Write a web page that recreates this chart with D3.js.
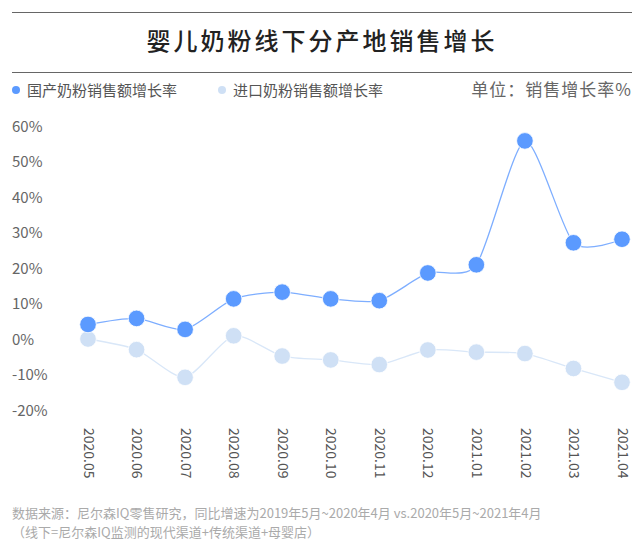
<!DOCTYPE html>
<html><head><meta charset="utf-8">
<script src="https://cdn.jsdelivr.net/npm/d3@7"></script>
<style>body{margin:0;background:#fff;} svg{display:block;font-family:"Noto Sans CJK SC","Noto Sans",sans-serif;}</style>
</head><body>
<svg id="c" width="641" height="550"></svg>
<script>
const months = ["2020.05","2020.06","2020.07","2020.08","2020.09","2020.10","2020.11","2020.12","2021.01","2021.02","2021.03","2021.04"];
const domestic = [4.1, 5.8, 2.7, 11.3, 13.2, 11.3, 10.8, 18.6, 20.9, 55.8, 27.1, 28.1];
const imported = [0.0, -3.0, -10.8, 0.9, -4.8, -5.9, -7.2, -3.1, -3.7, -4.1, -8.3, -12.2];
const yTicks = [60, 50, 40, 30, 20, 10, 0, -10, -20];
const seriesNames = ["国产奶粉销售额增长率", "进口奶粉销售额增长率"];
const colors = ["#5b9aff", "#cfe0f5"];
const lineColors = ["#7eaeff", "#d9e7f8"];

const svg = d3.select("#c");
const x = d3.scalePoint().domain(months).range([88, 622]);
const y = d3.scaleLinear().domain([-20, 60]).range([410, 126]);

// header
svg.append("line").attr("x1", 12).attr("x2", 632).attr("y1", 12.5).attr("y2", 12.5).attr("stroke", "#666").attr("stroke-width", 1);
svg.append("line").attr("x1", 12).attr("x2", 632).attr("y1", 72.5).attr("y2", 72.5).attr("stroke", "#666").attr("stroke-width", 1);
svg.append("text").attr("x", 322).attr("y", 50).attr("text-anchor", "middle").attr("font-size", 24).attr("font-weight", 500).attr("letter-spacing", 3).attr("fill", "#222").text("婴儿奶粉线下分产地销售增长");

// legend
const legX = [16, 222];
seriesNames.forEach((n, i) => {
  svg.append("circle").attr("cx", legX[i]).attr("cy", 90).attr("r", 4).attr("fill", colors[i]);
  svg.append("text").attr("x", legX[i] + 11).attr("y", 95.5).attr("font-size", 15).attr("fill", "#555").text(n);
});
svg.append("text").attr("x", 632).attr("y", 96).attr("text-anchor", "end").attr("font-size", 17).attr("fill", "#666").attr("letter-spacing", 1).text("单位：销售增长率%");

// y axis labels
const yAxis = d3.axisLeft(y).tickValues(yTicks).tickFormat(d => d + "%").tickSize(0);
const ya = svg.append("g").attr("transform", "translate(12,0)").call(yAxis);
ya.select(".domain").remove();
ya.selectAll("text").attr("text-anchor", "start").attr("x", 0).attr("dy", "0.35em").attr("font-size", 15).attr("fill", "#666").attr("font-family", "'Noto Sans CJK SC'");

// x axis labels
const xAxis = d3.axisBottom(x).tickSize(0);
const xa = svg.append("g").attr("transform", "translate(0,428)").call(xAxis);
xa.select(".domain").remove();
xa.selectAll("text").attr("transform", "rotate(90)").attr("text-anchor", "start").attr("x", 0).attr("y", 0).attr("dy", "0.35em").attr("font-size", 14).attr("fill", "#555").attr("font-family", "'Noto Sans CJK SC'");

// lines and points
const line = d3.line().x((d, i) => x(months[i])).y(d => y(d)).curve(d3.curveCardinal.tension(0.3));
[imported, domestic].forEach((data, k) => {
  const idx = k === 0 ? 1 : 0;
  svg.append("path").attr("d", line(data)).attr("fill", "none").attr("stroke", lineColors[idx]).attr("stroke-width", 1.3);
  svg.append("g").selectAll("circle").data(data).join("circle")
    .attr("cx", (d, i) => x(months[i])).attr("cy", d => y(d)).attr("r", 8.3)
    .attr("fill", colors[idx]).attr("stroke", "#fff").attr("stroke-width", 0.8);
});

// footnote
const notes = ["数据来源：尼尔森IQ零售研究，同比增速为2019年5月~2020年4月 vs.2020年5月~2021年4月", "（线下=尼尔森IQ监测的现代渠道+传统渠道+母婴店）"];
notes.forEach((t, i) => {
  svg.append("text").attr("x", 12).attr("y", 518 + i * 19).attr("font-size", 13).attr("fill", "#aaa").text(t);
});
</script>
</body></html>
